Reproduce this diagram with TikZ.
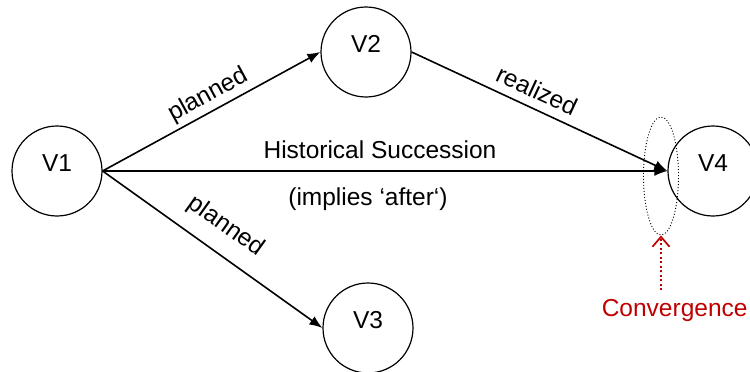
\documentclass[tikz,border=0pt]{standalone}
\usepackage{fontspec}
\setmainfont{Liberation Sans}
\usetikzlibrary{arrows.meta, shapes.geometric}
\definecolor{convred}{RGB}{192,0,0}
\tikzset{
  ->,
  >={Latex[length=13pt,width=10pt]},
  x=1pt, y=-1pt,
  vertex/.style={circle, draw, line width=1.2pt, minimum size=90pt,
                 inner sep=0pt, text depth=16pt},
  converge/.style={ellipse, draw, line width=0.9pt,
                   dash pattern=on 1pt off 2pt,
                   minimum width=35pt, minimum height=118pt},
  convarrow/.style={convred, line width=1.7pt, dash pattern=on 2pt off 2.5pt,
                    -{Straight Barb[length=10pt,width=17pt]}},
}

\begin{document}
\begin{tikzpicture}[font=\fontsize{24.5}{29}\selectfont, line width=1.6pt]
      \useasboundingbox (0,0) rectangle (750,372);

      \node[vertex] (v1) at (57,171)  {V1};
      \node[vertex] (v2) at (366,52)  {V2};
      \node[vertex] (v3) at (368,328) {V3};
      \node[vertex] (v4) at (713,171) {V4};

      \draw (v1.east) -- node[sloped,above,pos=0.52]       {planned}  (v2.west);
      \draw (v1.east) -- node[sloped,above=11pt,pos=0.49]  {planned}  (v3.west);
      \draw (v2.east) -- node[sloped,above=5pt,pos=0.46]   {realized} (v4.west);
      \draw (v1.east) -- node[above=8pt,xshift=-5pt]       {Historical Succession}
                         node[below=13pt,xshift=-17pt]     {(implies ‘after‘)} (v4.west);

      % convergence mark
      \node[converge] (conv) at (661,176) {};
      \coordinate (convfoot) at (661,290);
      \node[text=convred, anchor=base west, inner sep=0pt] (convlabel) at (601,316) {Convergence};
      \draw[convarrow] (convfoot) -- (conv.south);
    \end{tikzpicture}
\end{document}
